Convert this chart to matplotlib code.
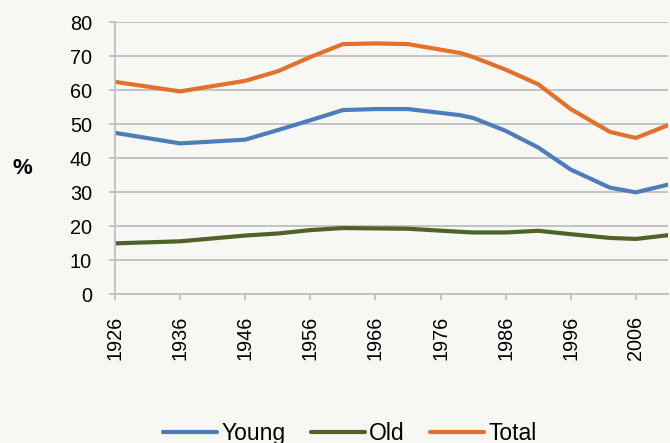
import matplotlib.pyplot as plt

plt.rcParams['font.family'] = ['Liberation Sans', 'DejaVu Sans']

# census years
years = [1926, 1936, 1946, 1951, 1956, 1961, 1966, 1971, 1979, 1981,
         1986, 1991, 1996, 2002, 2006, 2011]
young = [47.4, 44.3, 45.4, 48.2, 51.1, 54.1, 54.4, 54.4, 52.6, 51.8,
         48.0, 43.1, 36.6, 31.3, 29.9, 32.2]
old = [14.9, 15.5, 17.2, 17.8, 18.8, 19.4, 19.3, 19.2, 18.3, 18.1,
       18.1, 18.6, 17.6, 16.5, 16.2, 17.3]
total = [62.4, 59.6, 62.7, 65.5, 69.7, 73.5, 73.7, 73.5, 70.9, 69.7,
         66.0, 61.7, 54.4, 47.7, 45.9, 49.7]
tick_years = list(range(1926, 2007, 10))

bg = '#F7F8F3'
grid_col = '#BFBFBF'

fig = plt.figure(figsize=(6.7, 4.43), dpi=100, facecolor=bg)
ax = fig.add_axes([0.1716, 0.3363, 0.826, 0.614], facecolor=bg)

ax.plot(years, young, color='#4D7EBA', lw=3, label='Young', solid_capstyle='round')
ax.plot(years, old, color='#4F6228', lw=3, label='Old', solid_capstyle='round')
ax.plot(years, total, color='#E3702D', lw=3, label='Total', solid_capstyle='round')

ax.set_xlim(1926, 2011)
ax.set_ylim(0, 80)
ax.set_yticks(range(0, 81, 10))
ax.set_xticks(tick_years)
ax.set_xticklabels([str(y) for y in tick_years], rotation=90)
ax.grid(axis='y', color=grid_col, lw=1.3)
ax.set_axisbelow(True)

for s in ['top', 'right']:
    ax.spines[s].set_visible(False)
for s in ['left', 'bottom']:
    ax.spines[s].set_color(grid_col)
    ax.spines[s].set_linewidth(1.3)
ax.tick_params(axis='both', colors=grid_col, length=4.5, width=1.3,
               labelsize=14.3, labelcolor='black')
ax.tick_params(axis='y', pad=12)
ax.tick_params(axis='x', pad=11)

fig.text(22 / 670, 1 - 168 / 443, '%', fontsize=16, fontweight='bold',
         ha='center', va='center')

fig.legend(loc='center', bbox_to_anchor=(0.522, 0.022), ncol=3, frameon=False,
           fontsize=16.5, handlelength=2.35, handletextpad=0.2, columnspacing=1.1)

fig.savefig('out.png', dpi=100, facecolor=bg)
